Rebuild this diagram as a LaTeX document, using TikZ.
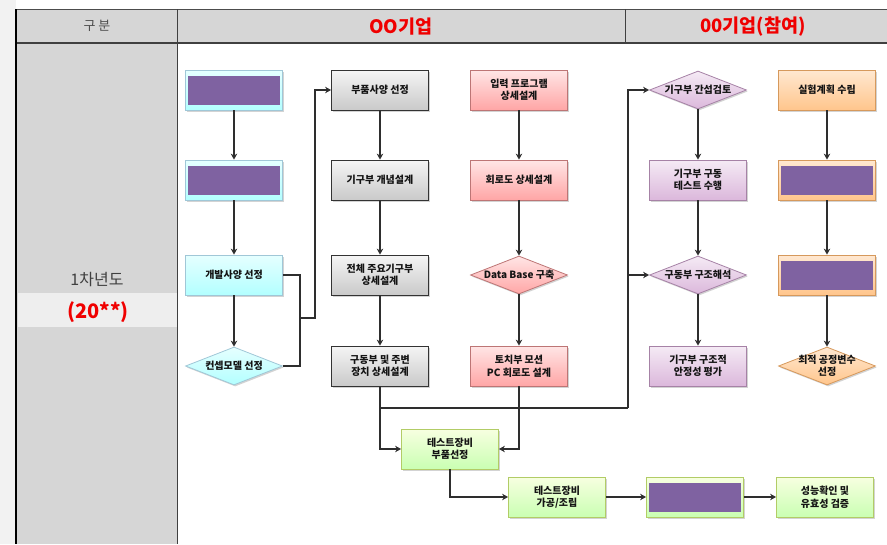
\documentclass[tikz,border=0pt]{standalone}
\usepackage{fontspec}
\setmainfont{Noto Sans CJK KR}
\usetikzlibrary{shapes.geometric, arrows.meta, shadows, positioning}
\definecolor{lnk}{HTML}{2E2E2E}
\definecolor{txt}{HTML}{141414}
\definecolor{vio}{HTML}{7F62A1}
\definecolor{hdr}{HTML}{D6D6D6}
\definecolor{side}{HTML}{D6D6D6}
\definecolor{redT}{HTML}{F00000}
\tikzstyle{pix}=[x=1pt,y=-1pt]
\tikzstyle{blk}=[rectangle,minimum width=97pt,minimum height=40pt,inner sep=1pt,align=center,
  font=\bfseries\fontsize{10}{12.5}\selectfont,text=txt,line width=.8pt,
  drop shadow={shadow xshift=1.2pt,shadow yshift=-1.5pt,opacity=.35}]
\tikzstyle{dia}=[blk,diamond,aspect=2.55,inner xsep=-3pt,inner ysep=-3.5pt,minimum height=38pt]
\tikzstyle{cy}=[top color=cyan!10,bottom color=cyan!30!white,draw=cyan!45!gray!60]
\tikzstyle{gy}=[top color=gray!8,bottom color=gray!42,draw=black!80]
\tikzstyle{pk}=[top color=red!10,bottom color=red!35,draw=red!35!gray!80]
\tikzstyle{lv}=[top color=violet!8,bottom color=violet!28,draw=violet!40!gray!70]
\tikzstyle{og}=[top color=orange!18,bottom color=orange!45,draw=orange!60!gray!80]
\tikzstyle{gn}=[top color=lime!12,bottom color=lime!40!green!30,draw=lime!50!gray!80]
\tikzstyle{veil}=[path picture={\fill[vio] ([xshift=2pt,yshift=-6pt]path picture bounding box.north west)
  rectangle ([xshift=-3pt,yshift=5pt]path picture bounding box.south east);}]
\tikzstyle{con}=[-{Stealth[length=6pt,width=6.5pt]},line width=1.4pt,draw=lnk]
\tikzstyle{wire}=[line width=1.4pt,draw=lnk]
\tikzstyle{hred}=[text=redT,font=\bfseries\fontsize{18.5}{20}\selectfont]

\begin{document}
\begin{tikzpicture}[pix]
\useasboundingbox (0,0) rectangle (887,544);
% table frame
\fill[gray!10] (0,0) rectangle (16,544);
\fill[hdr] (16,9) rectangle (887,43);
\fill[side] (16,43) rectangle (177,544);
\fill[gray!13] (18,293) rectangle (177,327);
\draw[black!70,line width=1pt] (16,9) -- (887,9);
\draw[black!75,line width=1.2pt] (16,43) -- (887,43);
\draw[black!75,line width=1pt] (177,9) -- (177,544) (625,9) -- (625,43);
\draw[black,line width=2pt] (16,9) -- (16,544);
\node[text=black!70,font=\fontsize{13}{15}\selectfont] (hgb) at (97,26) {구 분};
\node[hred] (hco) at (401,27) {OO기업};
\node[hred] (hpt) at (753,27) {00기업(참여)};
\node[text=black!75,font=\fontsize{16}{18}\selectfont] (yr) at (97,280) {1차년도};
\node[text=redT,font=\bfseries\fontsize{20}{22}\selectfont] (yy) at (98,312) {(20**)};
% column nodes
\node[blk,cy,veil] (a1) at (234,90) {};
\node[blk,cy,veil] (a2) at (234,180) {};
\node[blk,cy] (a3) at (234,275) {개발사양 선정};
\node[dia,cy] (a4) at (234,366) {컨셉모델 선정};
\node[blk,gy] (b1) at (380,90) {부품사양 선정};
\node[blk,gy] (b2) at (380,180) {기구부 개념설계};
\node[blk,gy] (b3) at (380,275) {전체 주요기구부\\상세설계};
\node[blk,gy] (b4) at (380,366) {구동부 및 주변\\장치 상세설계};
\node[blk,pk] (c1) at (519,90) {입력 프로그램\\상세설계};
\node[blk,pk] (c2) at (519,180) {회로도 상세설계};
\node[dia,pk] (c3) at (519,275) {Data Base 구축};
\node[blk,pk] (c4) at (519,366) {토치부 모션\\PC 회로도 설계};
\node[dia,lv] (d1) at (698,90) {기구부 간섭검토};
\node[blk,lv] (d2) at (698,180) {기구부 구동\\테스트 수행};
\node[dia,lv] (d3) at (698,275) {구동부 구조해석};
\node[blk,lv] (d4) at (698,366) {기구부 구조적\\안정성 평가};
\node[blk,og] (e1) at (827,90) {실험계획 수립};
\node[blk,og,veil] (e2) at (827,180) {};
\node[blk,og,veil] (e3) at (827,275) {};
\node[dia,og] (e4) at (827,366) {최적 공정변수\\선정};
\node[blk,gn] (t1) at (450,449) {테스트장비\\부품선정};
\node[blk,gn] (t2) at (557,497) {테스트장비\\가공/조립};
\node[blk,gn,veil] (t3) at (695,497) {};
\node[blk,gn] (t4) at (825,497) {성능확인 및\\유효성 검증};
% junctions
\coordinate (ja) at (300,318);
\coordinate (jb) at (315,318);
\coordinate (jc) at (380,408);
\coordinate (jd) at (628,408);
% connectors
\foreach \c in {a,b,c,d,e}
  {\foreach \i/\j in {1/2,2/3,3/4}
    {\draw[con] (\c\i) -- (\c\j);}}
\draw[wire] (a3.east) -| (ja);
\draw[wire] (a4.east) -| (ja);
\draw[con] (ja) -- (jb) |- (b1.west);
\draw[con] (b4.south) |- (t1.west);
\draw[con] (c4.south) |- (t1.east);
\draw[wire] (jc) -- (jd);
\draw[con] (jd) |- (d1.west);
\draw[con] (jd) |- (d3.west);
\draw[con] (t1.south) |- (t2.west);
\draw[con] (t2) -- (t3);
\draw[con] (t3) -- (t4);
\end{tikzpicture}
\end{document}
